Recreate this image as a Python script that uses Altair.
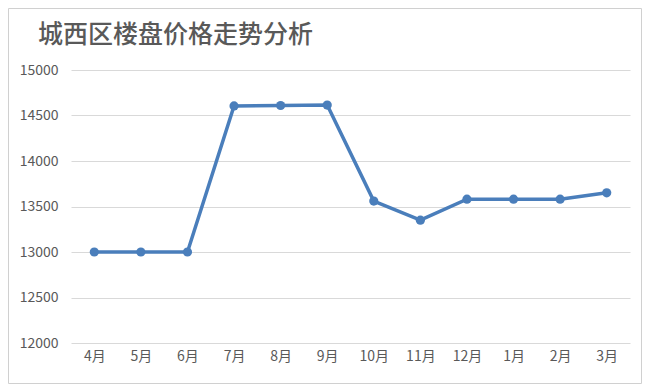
import altair as alt
import pandas as pd

months = ["4月", "5月", "6月", "7月", "8月", "9月", "10月", "11月", "12月", "1月", "2月", "3月"]
prices = [13000, 13000, 13000, 14605, 14610, 14615, 13560, 13350, 13580, 13580, 13580, 13650]
y_ticks = [12000, 12500, 13000, 13500, 14000, 14500, 15000]

df = pd.DataFrame({"month": months, "price": prices})

W, H = 559, 273
PL, PT, PR, PB = 63, 62, 12, 41
FONT = "Noto Sans CJK SC"
GREY = "#595959"
BLUE = "#4a7ebb"

x_enc = alt.X("month:O", sort=months, title=None,
              scale=alt.Scale(padding=0.5),
              axis=alt.Axis(labelAngle=0, ticks=False, domain=False, grid=False,
                            labelFont=FONT, labelFontSize=14, labelColor=GREY,
                            labelPadding=6))
y_enc = alt.Y("price:Q", title=None,
              scale=alt.Scale(domain=[12000, 15000], nice=False, zero=False),
              axis=alt.Axis(values=y_ticks, ticks=False, domain=False, grid=True,
                            gridColor="#d9d9d9", gridWidth=1,
                            labelFont=FONT, labelFontSize=14, labelColor=GREY,
                            labelPadding=13, format="d"))

line = alt.Chart(df).mark_line(color=BLUE, strokeWidth=3.5).encode(x=x_enc, y=y_enc)
pts = alt.Chart(df).mark_point(filled=True, color=BLUE, size=85, opacity=1).encode(
    x=alt.X("month:O", sort=months), y="price:Q")

border = alt.Chart(pd.DataFrame({"a": [0]})).mark_rect(
    fill=None, stroke="#d0d0d0", strokeWidth=1
).encode(x=alt.value(-PL + 0.5), x2=alt.value(W + PR - 0.5),
         y=alt.value(-PT + 0.5), y2=alt.value(H + PB - 0.5))

chart = (border + line + pts).properties(
    width=W, height=H,
    padding={"left": PL, "top": PT, "right": PR, "bottom": PB},
    autosize=alt.AutoSizeParams(type="none"),
    background="white",
    title=alt.TitleParams("城西区楼盘价格走势分析", anchor="start", frame="group",
                          font=FONT, fontSize=25, fontWeight=500, color=GREY,
                          dx=-33, offset=14, dy=54),
).configure_view(stroke=None)

chart.save("out.html", embed_options={"renderer": "svg", "actions": False})
